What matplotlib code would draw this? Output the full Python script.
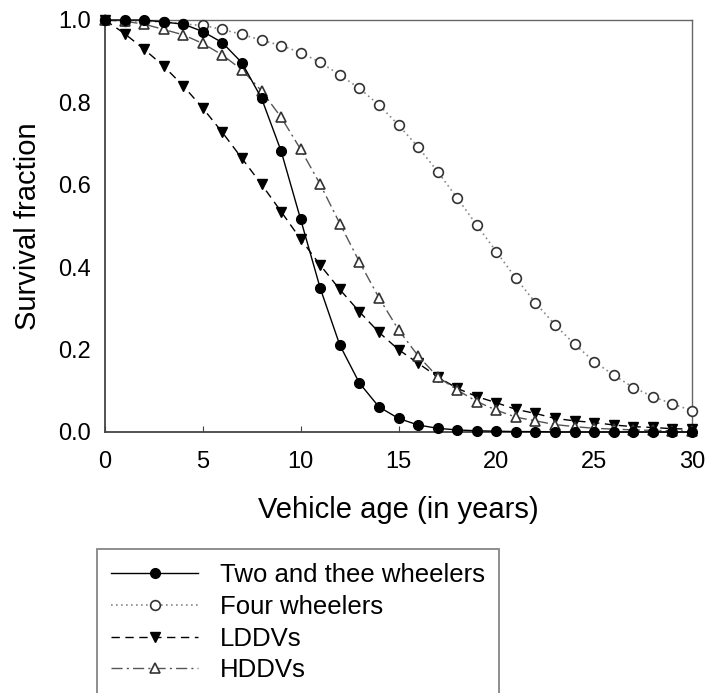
import matplotlib.pyplot as plt

plt.rcParams['font.family'] = ['Liberation Sans', 'DejaVu Sans']

# vehicle age in years
age = list(range(31))

# survival fraction per vehicle class
two_three = [1.0, 1.0, 1.0, 0.995, 0.99, 0.972, 0.945, 0.896, 0.81, 0.682,
             0.516, 0.349, 0.211, 0.119, 0.061, 0.033, 0.017, 0.009, 0.005, 0.003,
             0.002, 0.001, 0.001, 0.0, 0.0, 0.0, 0.0, 0.0, 0.0, 0.0, 0.0]
four = [1.0, 0.998, 0.997, 0.995, 0.99, 0.987, 0.977, 0.965, 0.951, 0.938,
        0.921, 0.897, 0.867, 0.834, 0.794, 0.745, 0.692, 0.632, 0.568, 0.502,
        0.438, 0.373, 0.314, 0.26, 0.213, 0.171, 0.138, 0.108, 0.086, 0.068, 0.052]
lddv = [1.0, 0.967, 0.929, 0.888, 0.84, 0.786, 0.727, 0.664, 0.601, 0.535,
        0.468, 0.405, 0.346, 0.292, 0.242, 0.2, 0.167, 0.134, 0.106, 0.086,
        0.071, 0.055, 0.045, 0.033, 0.027, 0.023, 0.017, 0.013, 0.011, 0.008, 0.007]
hddv = [1.0, 0.997, 0.99, 0.977, 0.964, 0.943, 0.915, 0.879, 0.828, 0.764,
        0.686, 0.601, 0.506, 0.413, 0.326, 0.248, 0.185, 0.134, 0.102, 0.074,
        0.053, 0.036, 0.027, 0.018, 0.013, 0.009, 0.007, 0.005, 0.004, 0.003, 0.002]

labels = ['Two and thee wheelers', 'Four wheelers', 'LDDVs', 'HDDVs']

fig = plt.figure(figsize=(7.06, 6.93), dpi=100)
ax = fig.add_axes([105 / 706, 1 - 432 / 693, 587 / 706, 412 / 693])

ms = 7
ax.plot(age, two_three, color='black', lw=1.0, marker='o', ms=ms,
        mfc='black', mec='black', label=labels[0], clip_on=False, zorder=5)
ax.plot(age, four, color='#888888', lw=1.2, ls=(0, (1, 2)), marker='o', ms=ms,
        mfc='white', mec='#333333', mew=1.2, label=labels[1], clip_on=False, zorder=3)
ax.plot(age, lddv, color='black', lw=1.0, ls=(0, (6, 4)), marker='v', ms=ms,
        mfc='black', mec='black', label=labels[2], clip_on=False, zorder=4)
ax.plot(age, hddv, color='#555555', lw=1.0, ls=(0, (8, 3, 1.5, 3)), marker='^', ms=ms,
        mfc='white', mec='#333333', mew=1.2, label=labels[3], clip_on=False, zorder=4)

ax.set_xlim(0, 30)
ax.set_ylim(0, 1.0)
ax.set_xticks([0, 5, 10, 15, 20, 25, 30])
ax.set_yticks([0.0, 0.2, 0.4, 0.6, 0.8, 1.0])
ax.set_yticklabels(['0.0', '0.2', '0.4', '0.6', '0.8', '1.0'])
ax.tick_params(axis='x', direction='in', length=4, labelsize=17, color='#444444', pad=14)
ax.tick_params(axis='y', length=0, labelsize=17, pad=10)

for side in ['left', 'bottom']:
    ax.spines[side].set_color('#444444')
    ax.spines[side].set_linewidth(1.3)
for side in ['top', 'right']:
    ax.spines[side].set_color('#666666')
    ax.spines[side].set_linewidth(1.0)

ax.set_xlabel('Vehicle age (in years)', fontsize=21, labelpad=16)
ax.set_ylabel('Survival fraction', fontsize=21, labelpad=12)

leg = fig.legend(loc='upper left', bbox_to_anchor=(97 / 706, 1 - 549 / 693),
                 fontsize=18.5, frameon=True, fancybox=False, edgecolor='#666666',
                 handlelength=3.4, handletextpad=0.85, labelspacing=0.3,
                 markerscale=1.0, borderpad=0.55, borderaxespad=0)
leg.get_frame().set_linewidth(1.3)

fig.savefig('out.png', dpi=100)
